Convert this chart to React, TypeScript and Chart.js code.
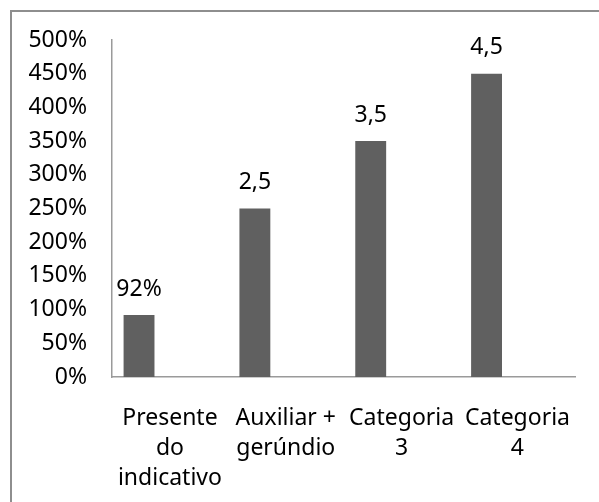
import React, { useEffect, useRef } from "react";
import { Chart, registerables } from "chart.js";

Chart.register(...registerables);

const categories: string[][] = [
  ["Presente", "do", "indicativo"],
  ["Auxiliar +", "gerúndio"],
  ["Categoria", "3"],
  ["Categoria", "4"],
];
const seriesValues: number[] = [0.92, 2.5, 3.5, 4.5];
const emptySeries: (number | null)[] = [null, null, null, null];
const dataLabels: string[] = ["92%", "2,5", "3,5", "4,5"];
const yTickMax = 5;
const yTickStep = 0.5;

const FONT = "'Noto Sans', 'Open Sans', sans-serif";

const framePlugin = {
  id: "frame",
  beforeDraw(chart: any) {
    const ctx = chart.ctx;
    ctx.save();
    ctx.fillStyle = "#ffffff";
    ctx.fillRect(0, 0, chart.width, chart.height);
    ctx.fillStyle = "#8e8e8e";
    ctx.fillRect(10, 10, 2, chart.height - 10);
    ctx.fillRect(10, 10, chart.width - 10, 2);
    ctx.restore();
  },
};

const labelPlugin = {
  id: "barLabels",
  afterDatasetsDraw(chart: any) {
    const ctx = chart.ctx;
    const meta = chart.getDatasetMeta(0);
    ctx.save();
    ctx.font = `23px ${FONT}`;
    ctx.fillStyle = "#000000";
    ctx.textAlign = "center";
    ctx.textBaseline = "middle";
    meta.data.forEach((bar: any, i: number) => {
      ctx.fillText(dataLabels[i], bar.x, bar.y - 26);
    });
    ctx.restore();
  },
};

export default function App() {
  const ref = useRef<HTMLCanvasElement | null>(null);
  useEffect(() => {
    if (!ref.current) return;
    const chart = new Chart(ref.current, {
      type: "bar",
      data: {
        labels: categories,
        datasets: [
          { label: "Série 1", data: seriesValues, backgroundColor: "#606060" },
          { label: "Série 2", data: emptySeries, backgroundColor: "#909090" },
          { label: "Série 3", data: emptySeries, backgroundColor: "#b0b0b0" },
        ],
      },
      options: {
        animation: false,
        responsive: false,
        maintainAspectRatio: false,
        categoryPercentage: 0.8,
        barPercentage: 1,
        layout: { padding: { top: 40, right: 16, left: 0, bottom: 0 } },
        plugins: {
          legend: { display: false },
          tooltip: { enabled: false },
        },
        scales: {
          x: {
            grid: { display: false, drawTicks: false, tickLength: 0 },
            border: { display: true, color: "#9a9a9a", width: 1.5 },
            ticks: {
              color: "#000000",
              font: { family: FONT, size: 23, lineHeight: 1.3 },
              padding: 27,
              maxRotation: 0,
              autoSkip: false,
            },
            afterFit: (s: any) => {
              s.height = 125;
            },
          },
          y: {
            min: 0,
            max: yTickMax,
            grid: { display: false, drawTicks: false, tickLength: 0 },
            border: { display: true, color: "#9a9a9a", width: 1.5 },
            ticks: {
              stepSize: yTickStep,
              color: "#000000",
              font: { family: FONT, size: 23 },
              padding: 25,
              callback: (v: any) => `${Math.round(Number(v) * 100)}%`,
            },
            afterFit: (s: any) => {
              s.width = 112;
            },
          },
        },
      },
      plugins: [framePlugin, labelPlugin],
    });
    return () => chart.destroy();
  }, []);
  return (
    <div style={{ position: "fixed", left: 0, top: 0, width: 599, height: 502 }}>
      <canvas ref={ref} width={599} height={502} style={{ display: "block" }} />
    </div>
  );
}
